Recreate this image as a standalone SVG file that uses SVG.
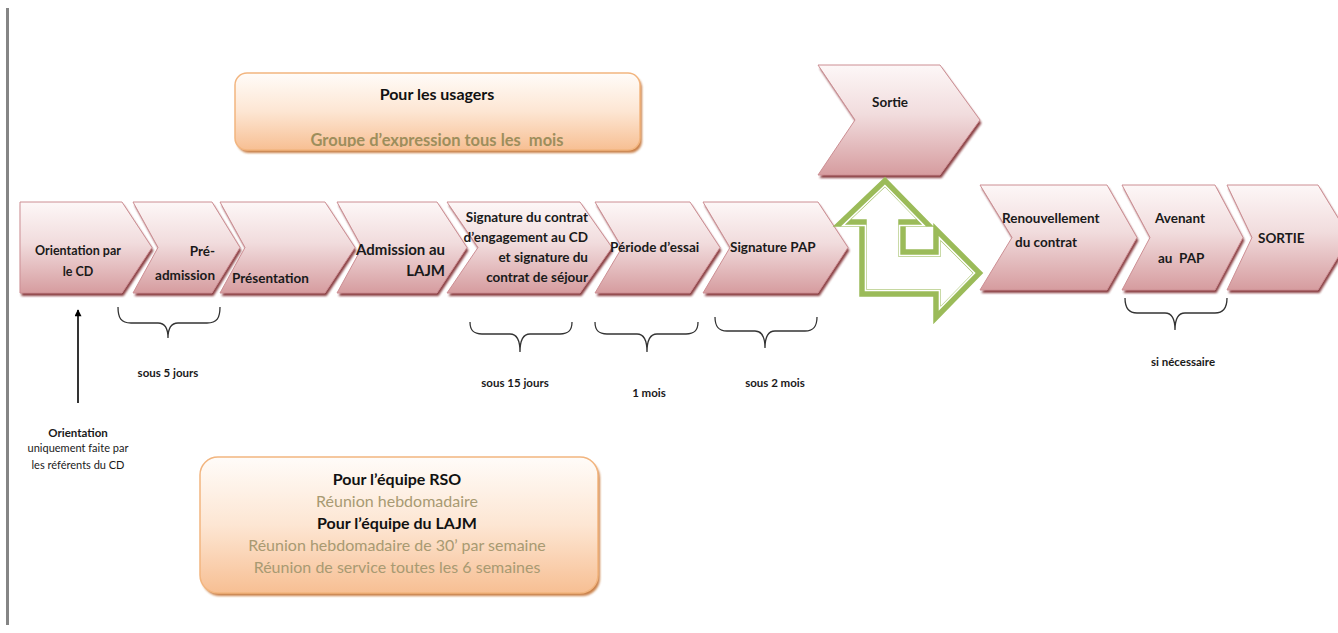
<svg xmlns="http://www.w3.org/2000/svg" width="1338" height="633" viewBox="0 0 1338 633">
  <defs>
    <linearGradient id="chevFill" x1="0" y1="0" x2="0" y2="1">
      <stop offset="0" stop-color="#fdf7f7"/>
      <stop offset="0.45" stop-color="#f1dcdd"/>
      <stop offset="1" stop-color="#d69c9f"/>
    </linearGradient>
    <linearGradient id="boxFill" x1="0" y1="0" x2="0" y2="1">
      <stop offset="0" stop-color="#fffcf9"/>
      <stop offset="0.5" stop-color="#fde6d3"/>
      <stop offset="1" stop-color="#f7bf93"/>
    </linearGradient>
    <filter id="soft" x="-5%" y="-5%" width="110%" height="115%">
      <feGaussianBlur stdDeviation="0.8"/>
    </filter>
    <marker id="arrowUp" viewBox="0 0 10 10" refX="9" refY="5" markerWidth="9" markerHeight="7" markerUnits="userSpaceOnUse" orient="auto">
      <path d="M0,0 L10,5 L0,10 Z" fill="#000"/>
    </marker>
    <clipPath id="topBoxClip">
      <rect x="235" y="73" width="405" height="74" rx="12"/>
    </clipPath>
  </defs>
  <style>
    .chev { fill: url(#chevFill); stroke: #cc8e93; stroke-width: 1; }
    .chevShadow { fill: #7e2a2f; opacity: 0.9; filter: url(#soft); }
    .lbl { font-family: Lato, "Liberation Sans", sans-serif; font-weight: bold; font-size: 13.5px; fill: #1a1a1a; }
    .note { font-family: Lato, "Liberation Sans", sans-serif; font-size: 11px; fill: #1a1a1a; }
    .noteB { font-family: Lato, "Liberation Sans", sans-serif; font-weight: bold; font-size: 11.5px; fill: #1a1a1a; }
    .box { fill: url(#boxFill); stroke: #f2b57f; stroke-width: 1.5; }
    .boxShadow { fill: #c06a2a; opacity: 0.85; filter: url(#soft); }
    .boxHead { font-family: Lato, "Liberation Sans", sans-serif; font-weight: bold; font-size: 16px; fill: #111; text-anchor: middle; }
    .boxText { font-family: Lato, "Liberation Sans", sans-serif; font-size: 16px; fill: #a89a72; text-anchor: middle; }
    .brace { fill: none; stroke: #333; stroke-width: 1.3; }
    .end { text-anchor: end; }
    .mid { text-anchor: middle; }
  </style>

  <!-- page margin rule -->
  <rect x="6" y="8" width="3" height="617" fill="#858585"/>

  <!-- top info box -->
  <g id="box-usagers">
    <rect class="boxShadow" x="237" y="76" width="405" height="77" rx="12"/>
    <rect class="box" x="235" y="73" width="405" height="77" rx="12"/>
    <text class="boxHead" x="437" y="100">Pour les usagers</text>
    <text class="boxText" x="437" y="146" clip-path="url(#topBoxClip)" xml:space="preserve" style="font-weight:bold;font-size:16.5px;fill:#9d8e5c">Groupe d’expression tous les  mois</text>
  </g>

  <!-- first row of steps -->
  <g id="step-orientation">
    <polygon class="chevShadow" points="21.5,205 123.5,205 153.5,250.5 123.5,296 21.5,296"/>
    <polygon class="chev" points="20,202 122,202 152,247.5 122,293 20,293"/>
    <text class="lbl mid" x="78" y="255" style="font-size:12.5px">Orientation par</text>
    <text class="lbl mid" x="78" y="276" style="font-size:12.5px">le CD</text>
  </g>
  <g id="step-preadmission">
    <polygon class="chevShadow" points="134.5,205 213.5,205 241.5,250.5 213.5,296 134.5,296 159.5,250.5"/>
    <polygon class="chev" points="133,202 212,202 240,247.5 212,293 133,293 158,247.5"/>
    <text class="lbl end" x="215" y="256">Pré-</text>
    <text class="lbl end" x="215" y="280">admission</text>
  </g>
  <g id="step-presentation">
    <polygon class="chevShadow" points="221.5,205 326.5,205 356.5,250.5 326.5,296 221.5,296 246.5,250.5"/>
    <polygon class="chev" points="220,202 325,202 355,247.5 325,293 220,293 245,247.5"/>
    <text class="lbl" x="232" y="283">Présentation</text>
  </g>
  <g id="step-admission">
    <polygon class="chevShadow" points="338.5,205 438.5,205 468.5,250.5 438.5,296 338.5,296 363.5,250.5"/>
    <polygon class="chev" points="337,202 437,202 467,247.5 437,293 337,293 362,247.5"/>
    <text class="lbl end" x="445" y="255" style="font-size:15px">Admission au</text>
    <text class="lbl end" x="445" y="276" style="font-size:15px">LAJM</text>
  </g>
  <g id="step-signature-contrat">
    <polygon class="chevShadow" points="448.5,205 581.5,205 613.5,250.5 581.5,296 448.5,296 479.5,250.5"/>
    <polygon class="chev" points="447,202 580,202 612,247.5 580,293 447,293 478,247.5"/>
    <text class="lbl end" x="588" y="222">Signature du contrat</text>
    <text class="lbl end" x="588" y="242">d’engagement au CD</text>
    <text class="lbl end" x="588" y="262">et signature du</text>
    <text class="lbl end" x="588" y="282">contrat de séjour</text>
  </g>
  <g id="step-periode-essai">
    <polygon class="chevShadow" points="596.5,205 691.5,205 721.5,250.5 691.5,296 596.5,296 623.5,250.5"/>
    <polygon class="chev" points="595,202 690,202 720,247.5 690,293 595,293 622,247.5"/>
    <text class="lbl" x="610" y="252">Période d’essai</text>
  </g>
  <g id="step-signature-pap">
    <polygon class="chevShadow" points="704.5,205 819.5,205 849.5,250.5 819.5,296 704.5,296 731.5,250.5"/>
    <polygon class="chev" points="703,202 818,202 848,247.5 818,293 703,293 730,247.5"/>
    <text class="lbl" x="730" y="252">Signature PAP</text>
  </g>

  <!-- exit branch -->
  <g id="step-sortie">
    <polygon class="chevShadow" points="819.5,68 941.5,68 981.5,123 941.5,178 819.5,178 856.5,123"/>
    <polygon class="chev" points="818,65 940,65 980,120 940,175 818,175 855,120"/>
    <text class="lbl" x="872" y="107">Sortie</text>
  </g>

  <!-- second row of steps -->
  <g id="step-renouvellement">
    <polygon class="chevShadow" points="981.5,188 1108.5,188 1138.5,240.5 1108.5,293 981.5,293 1013.5,240.5"/>
    <polygon class="chev" points="980,185 1107,185 1137,237.5 1107,290 980,290 1012,237.5"/>
    <text class="lbl" x="1002" y="223">Renouvellement</text>
    <text class="lbl" x="1015" y="247">du contrat</text>
  </g>
  <g id="step-avenant">
    <polygon class="chevShadow" points="1123.5,188 1216.5,188 1244.5,240.5 1216.5,293 1123.5,293 1151.5,240.5"/>
    <polygon class="chev" points="1122,185 1215,185 1243,237.5 1215,290 1122,290 1150,237.5"/>
    <text class="lbl" x="1155" y="223">Avenant</text>
    <text class="lbl" x="1158" y="263" xml:space="preserve">au  PAP</text>
  </g>
  <g id="step-sortie-finale">
    <polygon class="chevShadow" points="1228.5,188 1319.5,188 1351.5,240.5 1319.5,293 1228.5,293 1253.5,240.5"/>
    <polygon class="chev" points="1227,185 1318,185 1350,237.5 1318,290 1227,290 1252,237.5"/>
    <text class="lbl" x="1258" y="243">SORTIE</text>
  </g>

  <!-- double bent arrow: up to exit, right to renewal -->
  <g id="bent-arrow">
    <path d="M885,182 L925,223 L902,223 L902,253 L937,253 L937,232 L978,273 L937,315 L937,293 L863,293 L863,223 L842,223 Z" fill="#fff" stroke="#9bbb59" stroke-width="7.5" stroke-linejoin="miter"/>
    <path d="M884.9,185.5 L924,225.5 L899.5,225.5 L899.5,255.5 L939.5,255.5 L939.5,238 L974.5,273 L939.5,308.9 L939.5,290.5 L865.5,290.5 L865.5,225.5 L843,225.5 Z" fill="none" stroke="#fff" stroke-width="1.6"/>
  </g>

  <!-- connectors and duration braces -->
  <g id="connectors">
    <line x1="78" y1="403" x2="78" y2="310" stroke="#000" stroke-width="1.6" marker-end="url(#arrowUp)"/>
    <path class="brace" d="M118,307 C118,318 121,323 131,323 L158,323 C164,323 168,327 168,338 C168,327 172,323 178,323 L207,323 C217,323 220,318 220,307"/>
    <path class="brace" d="M470,322 C470,330 473,334 482,334 L510,334 C516,334 520,339 520,352 C520,339 524,334 530,334 L560,334 C569,334 572,330 572,322"/>
    <path class="brace" d="M595,322 C595,330 598,334 607,334 L637,334 C643,334 647,339 647,352 C647,339 651,334 657,334 L686,334 C695,334 698,330 698,322"/>
    <path class="brace" d="M715,317 C715,326 718,331 727,331 L755,331 C761,331 765,336 765,348 C765,336 769,331 775,331 L805,331 C814,331 817,326 817,317"/>
    <path class="brace" d="M1125,298 C1125,307 1128,313 1137,313 L1165,313 C1171,313 1175,318 1175,330 C1175,318 1179,313 1185,313 L1215,313 C1224,313 1227,307 1227,298"/>
  </g>

  <!-- duration labels -->
  <g id="labels">
    <text class="noteB mid" x="168" y="377">sous 5 jours</text>
    <text class="noteB mid" x="515" y="387">sous 15 jours</text>
    <text class="noteB mid" x="649" y="397">1 mois</text>
    <text class="noteB mid" x="775" y="387">sous 2 mois</text>
    <text class="noteB mid" x="1183" y="366">si nécessaire</text>
  </g>

  <g id="note-orientation">
    <text class="noteB mid" x="78" y="437">Orientation</text>
    <text class="note mid" x="78" y="452">uniquement faite par</text>
    <text class="note mid" x="78" y="469">les référents du CD</text>
  </g>

  <!-- bottom info box -->
  <g id="box-equipes">
    <rect class="boxShadow" x="202" y="460" width="398" height="136" rx="18"/>
    <rect class="box" x="200" y="457" width="398" height="136" rx="18"/>
    <text class="boxHead" x="397" y="485">Pour l’équipe RSO</text>
    <text class="boxText" x="397" y="507">Réunion hebdomadaire</text>
    <text class="boxHead" x="397" y="529">Pour l’équipe du LAJM</text>
    <text class="boxText" x="397" y="551">Réunion hebdomadaire de 30’ par semaine</text>
    <text class="boxText" x="397" y="573">Réunion de service toutes les 6 semaines</text>
  </g>
</svg>
